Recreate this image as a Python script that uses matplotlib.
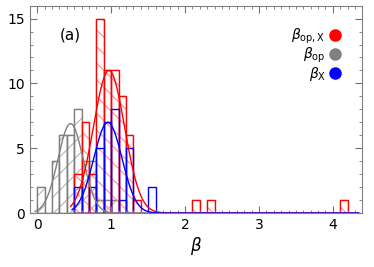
import numpy as np
import matplotlib
matplotlib.use("Agg")
import matplotlib.pyplot as plt
from matplotlib.lines import Line2D
from matplotlib.ticker import MultipleLocator

# histogram bins (left edges, width 0.1) and counts
bin_width = 0.1
gray_left = [0.0, 0.1, 0.2, 0.3, 0.4, 0.5, 0.6, 0.7, 0.8, 0.9, 1.0]
gray_count = [2, 0, 4, 6, 6, 8, 4, 4, 1, 1, 1]

red_left = [0.5, 0.6, 0.7, 0.8, 0.9, 1.0, 1.1, 1.2, 1.3, 1.4, 1.5, 1.6, 1.7, 1.8, 1.9, 2.0, 2.1, 2.2, 2.3, 4.1]
red_count = [3, 7, 3, 15, 11, 11, 9, 6, 1, 0, 0, 0, 0, 0, 0, 0, 1, 0, 1, 1]

blue_left = [0.5, 0.6, 0.7, 0.8, 0.9, 1.0, 1.1, 1.2, 1.3, 1.4, 1.5]
blue_count = [2, 0, 2, 5, 7, 8, 1, 5, 0, 0, 2]

# gaussian fits: (amplitude, centre, sigma, start)
gray_fit = (6.9, 0.45, 0.17, -0.03)
red_fit = (11.0, 0.97, 0.21, 0.45)
blue_fit = (7.0, 0.955, 0.19, 0.47)

labels = [r'$\beta_{\rm op,X}$', r'$\beta_{\rm op}$', r'$\beta_{\rm X}$']
colors = ['red', 'gray', 'blue']

fig = plt.figure(figsize=(3.74, 2.67), dpi=100)
ax = fig.add_axes([0.080, 0.202, 0.889, 0.777])

def hist(left, count, col, hatch, hatch_col):
    if hatch:
        ax.bar(left, count, width=bin_width, align='edge', fill=False,
               hatch=hatch, edgecolor=hatch_col, linewidth=0.3)
    ax.bar(left, count, width=bin_width, align='edge', fill=False,
           edgecolor=col, linewidth=1.0)

def fit(params, col):
    amp, mu, sig, x0 = params
    x = np.linspace(x0, 4.35, 600)
    ax.plot(x, amp * np.exp(-(x - mu) ** 2 / (2 * sig ** 2)), color=col, lw=1.0)

plt.rcParams['hatch.linewidth'] = 0.8
hist(gray_left, gray_count, 'gray', '//', '#b4b4b4')
hist(red_left, red_count, 'red', '\\\\', '#ff8c8c')
hist(blue_left, blue_count, 'blue', None, None)
fit(gray_fit, 'gray')
fit(red_fit, 'red')
fit(blue_fit, 'blue')

ax.set_xlim(-0.1, 4.4)
ax.set_ylim(0, 16)
ax.xaxis.set_major_locator(MultipleLocator(1))
ax.xaxis.set_minor_locator(MultipleLocator(0.1))
ax.yaxis.set_major_locator(MultipleLocator(5))
ax.yaxis.set_minor_locator(MultipleLocator(1))
ax.tick_params(which='both', direction='in', top=True, right=True,
               color='0.45', labelsize=10)
ax.tick_params(which='major', length=5)
ax.tick_params(which='minor', length=2.5)
for s in ax.spines.values():
    s.set_color('0.5')

ax.set_xlabel(r'$\beta$', fontsize=12, labelpad=2)
ax.text(0.09, 0.86, '(a)', transform=ax.transAxes, fontsize=11, va='center')

handles = [Line2D([], [], ls='', marker='o', ms=8, color=c) for c in colors]
ax.legend(handles, labels, loc='upper right', bbox_to_anchor=(0.965, 0.945),
          frameon=False, markerfirst=False, fontsize=10, handlelength=0.8,
          handletextpad=0.3, labelspacing=0.0, borderpad=0.2)

fig.savefig('out.png', dpi=100)
